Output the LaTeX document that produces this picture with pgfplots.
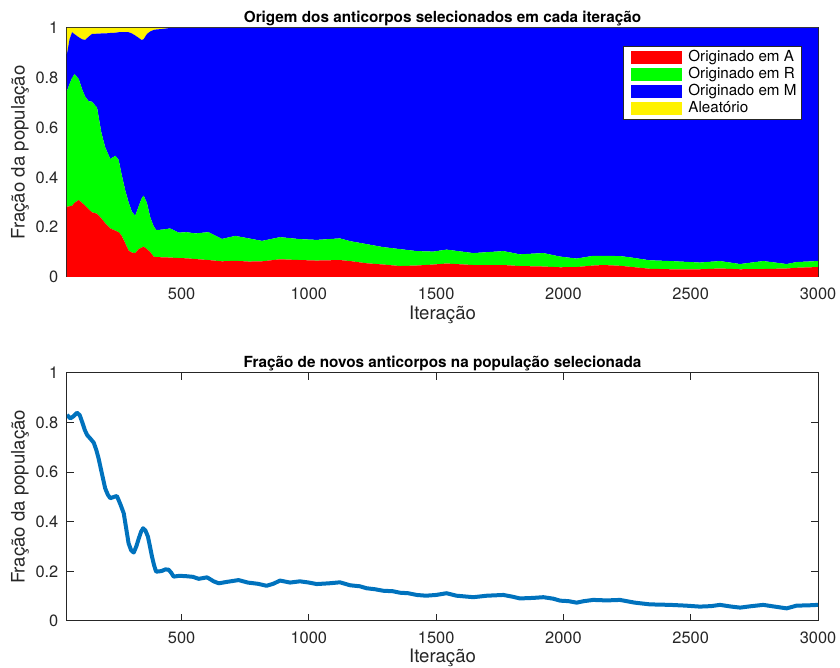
\documentclass[border=0pt]{standalone}
\usepackage{pgfplots}
\pgfplotsset{compat=1.18}
\usepackage{pgfplotstable}
\usepackage{fontspec}
\setmainfont{TeX Gyre Heros}

\definecolor{axgray}{gray}{0.15}
\definecolor{mlblue}{rgb}{0,0.447,0.741}

% Share of each origin among the selected antibodies (fractions sum to 1)
\pgfplotstableread{
iter A R M Al
50 0.282 0.466 0.148 0.104
60 0.284 0.491 0.180 0.045
70 0.286 0.514 0.183 0.017
80 0.298 0.517 0.160 0.025
96 0.309 0.486 0.168 0.037
109 0.298 0.457 0.200 0.045
121 0.286 0.439 0.227 0.048
135 0.272 0.434 0.259 0.035
148 0.260 0.444 0.272 0.024
168 0.254 0.426 0.297 0.023
185 0.235 0.345 0.398 0.022
200 0.216 0.305 0.457 0.022
220 0.195 0.279 0.506 0.020
240 0.186 0.301 0.494 0.019
253 0.180 0.290 0.513 0.017
265 0.165 0.245 0.573 0.017
279 0.135 0.212 0.636 0.017
292 0.106 0.194 0.683 0.017
305 0.098 0.164 0.716 0.022
318 0.096 0.150 0.724 0.030
332 0.112 0.173 0.675 0.040
343 0.118 0.197 0.637 0.048
351 0.122 0.205 0.628 0.045
364 0.112 0.185 0.679 0.024
377 0.100 0.140 0.746 0.014
390 0.082 0.123 0.787 0.008
400 0.080 0.109 0.805 0.006
423 0.079 0.111 0.806 0.004
455 0.078 0.117 0.805 0
489 0.076 0.102 0.822 0
520 0.075 0.105 0.820 0
554 0.072 0.103 0.825 0
606 0.068 0.112 0.820 0
659 0.063 0.090 0.847 0
711 0.065 0.100 0.835 0
764 0.062 0.093 0.845 0
816 0.063 0.082 0.855 0
887 0.071 0.089 0.840 0
965 0.068 0.084 0.848 0
1031 0.066 0.083 0.851 0
1122 0.068 0.087 0.845 0
1162 0.064 0.080 0.856 0
1227 0.055 0.077 0.868 0
1292 0.050 0.070 0.880 0
1358 0.044 0.068 0.888 0
1424 0.046 0.058 0.896 0
1489 0.050 0.052 0.898 0
1541 0.054 0.056 0.890 0
1646 0.048 0.048 0.904 0
1764 0.048 0.056 0.896 0
1829 0.044 0.047 0.909 0
1921 0.042 0.054 0.904 0
1987 0.039 0.043 0.918 0
2052 0.040 0.034 0.926 0
2117 0.046 0.039 0.915 0
2157 0.048 0.037 0.915 0
2222 0.045 0.039 0.916 0
2261 0.041 0.038 0.921 0
2340 0.033 0.034 0.933 0
2419 0.031 0.033 0.936 0
2536 0.031 0.027 0.942 0
2615 0.034 0.030 0.936 0
2694 0.031 0.021 0.948 0
2785 0.032 0.032 0.936 0
2877 0.034 0.018 0.948 0
2916 0.037 0.023 0.940 0
3000 0.040 0.024 0.936 0
}\origem

% Fraction of new antibodies in the selected population
\pgfplotstableread{
iter frac
50 0.831
63 0.817
75 0.825
89 0.840
100 0.830
109 0.804
120 0.770
129 0.750
142 0.735
155 0.719
165 0.690
174 0.656
187 0.595
200 0.535
210 0.510
220 0.495
233 0.500
246 0.504
260 0.470
273 0.434
283 0.370
292 0.313
302 0.285
312 0.276
322 0.300
332 0.333
341 0.360
349 0.374
358 0.365
368 0.340
376 0.300
384 0.259
392 0.225
400 0.199
412 0.200
423 0.202
436 0.208
449 0.207
459 0.195
469 0.179
490 0.182
515 0.181
545 0.178
567 0.170
600 0.176
610 0.170
626 0.160
646 0.152
680 0.158
724 0.165
760 0.155
800 0.150
834 0.142
860 0.150
887 0.163
926 0.155
965 0.160
1000 0.155
1031 0.149
1080 0.152
1122 0.156
1162 0.144
1200 0.140
1227 0.132
1260 0.128
1292 0.122
1330 0.120
1358 0.114
1390 0.112
1424 0.105
1460 0.102
1500 0.105
1541 0.112
1580 0.102
1646 0.096
1700 0.102
1764 0.105
1800 0.098
1829 0.091
1880 0.093
1921 0.096
1960 0.090
1987 0.082
2020 0.080
2052 0.074
2080 0.080
2117 0.085
2170 0.083
2222 0.085
2280 0.074
2340 0.067
2419 0.065
2480 0.062
2536 0.058
2580 0.060
2615 0.065
2660 0.058
2694 0.054
2740 0.060
2785 0.065
2830 0.058
2877 0.051
2916 0.062
2960 0.063
3000 0.065
}\novos

\pgfplotsset{
  matstyle/.style={
    scale only axis, width=375.5pt,
    xmin=50, xmax=3000, ymin=0, ymax=1,
    xtick={500,1000,1500,2000,2500,3000},
    ytick={0,0.2,0.4,0.6,0.8,1},
    scaled ticks=false,
    /pgf/number format/1000 sep={},
    tick align=inside, major tick length=3.5pt,
    axis line style={axgray, line width=0.5pt},
    every tick/.style={axgray, line width=0.5pt},
    tick label style={font=\fontsize{8.2}{9.8}\selectfont, text=axgray},
    /pgf/number format/assume math mode=true,
    xticklabel style={yshift=-2pt},
    yticklabel style={xshift=-0.8pt},
    label style={font=\fontsize{9.3}{11}\selectfont, text=axgray},
    xlabel style={at={(axis description cs:0.5,-0.169)}, anchor=base},
    ylabel style={at={(axis description cs:-0.0626,0.5)}, anchor=center},
    every axis title shift=0pt,
    title style={at={(axis description cs:0.5,1)}, anchor=base, yshift=2.5pt,
      inner sep=0pt, font=\bfseries\fontsize{7.65}{9}\selectfont},
    xlabel={Iteração}, ylabel={Fração da população},
  },
  patch/.style={legend image code/.code={%
    \path (0pt,0pt);
    \fill[##1] (2pt,-3.25pt) rectangle (27.5pt,3.25pt);}},
}

\begin{document}
\begin{tikzpicture}
\useasboundingbox (-33.5pt,-23.5pt) rectangle (386.5pt,310.5pt);

% lower panel: new antibodies
\begin{axis}[matstyle, height=124pt, at={(0,0)}, anchor=south west,
  title={Fração de novos anticorpos na população selecionada}]
\addplot[mlblue, line width=2pt, line join=round] table[x=iter, y=frac]{\novos};
\end{axis}

% upper panel: stacked origins
\begin{axis}[matstyle, height=124.5pt, at={(0,172pt)}, anchor=south west,
  stack plots=y,
  title={Origem dos anticorpos selecionados em cada iteração},
  legend cell align=left,
  legend style={at={(axis description cs:0.9787,0.9277)}, anchor=north east,
    draw=axgray, line width=0.5pt, fill=white,
    font=\fontsize{7.6}{8.4}\selectfont,
    inner xsep=2pt, inner ysep=1.5pt, row sep=0pt,
    nodes={inner sep=0.5pt, text height=5.6pt, text depth=1.8pt},
    /tikz/every odd column/.append style={column sep=2.5pt}}]
\addplot[fill=red, draw=none, patch] table[x=iter, y=A]{\origem} \closedcycle;
\addplot[fill=green, draw=none, patch] table[x=iter, y=R]{\origem} \closedcycle;
\addplot[fill=blue, draw=none, patch] table[x=iter, y=M]{\origem} \closedcycle;
\addplot[fill=yellow, draw=none, patch] table[x=iter, y=Al]{\origem} \closedcycle;
\legend{Originado em A, Originado em R, Originado em M, Aleatório}
\end{axis}
\end{tikzpicture}
\end{document}
